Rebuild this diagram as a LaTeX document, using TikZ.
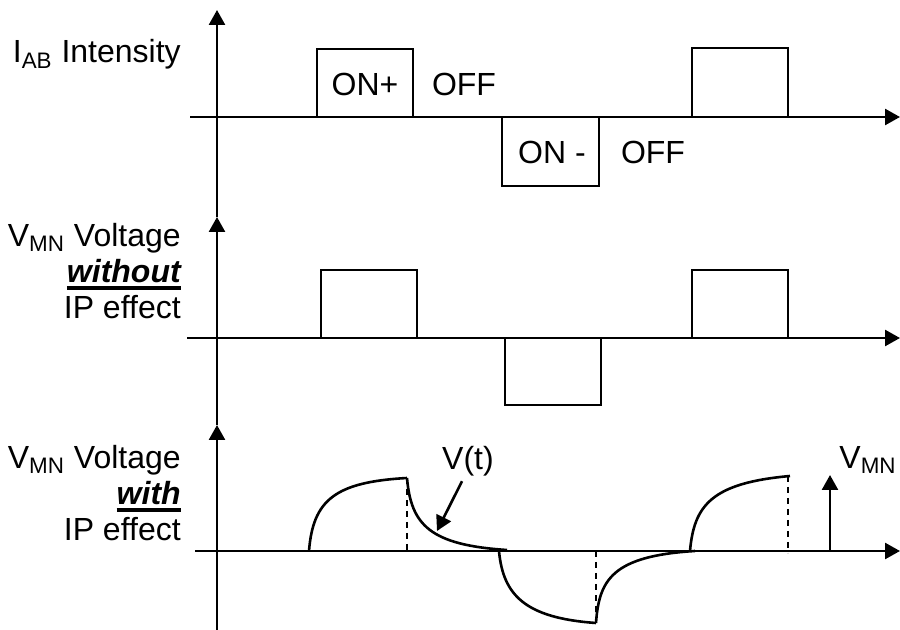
\documentclass[tikz,border=0pt]{standalone}
\usepackage{fontspec}
\setmainfont{Liberation Sans}
\usetikzlibrary{arrows.meta}

\newcommand{\ulbold}[1]{\setbox0=\hbox{\bfseries\itshape #1}\rlap{\rule[-4pt]{\wd0}{2pt}}\box0}

\begin{document}
\begin{tikzpicture}[x=0.5pt,y=-0.5pt,line width=1.3pt,font=\fontsize{16}{18}\selectfont,>={Triangle[length=7.5pt,width=8pt]}]
\useasboundingbox (0,0) rectangle (900,630);
% intensity
\draw[->] (217,217) -- (217,10);
\draw[->] (190,117) -- (900,117);
\draw[line width=1.1pt] (317,117) rectangle (413,49);
\draw[line width=1.1pt] (502,117) rectangle (599,186);
\draw[line width=1.1pt] (692,117) rectangle (788,48);
\node[anchor=base east,inner sep=0] (iab) at (182,63) {I\textsubscript{AB} Intensity};
\node (on1) at (365,84) {ON+};
\node (off1) at (464,84) {OFF};
\node (on2) at (552,152) {ON -};
\node (off2) at (653,152) {OFF};
% voltage without IP
\draw[->] (217,425) -- (217,217);
\draw[->] (187,338) -- (900,338);
\draw[line width=1.1pt] (321,338) rectangle (417,270);
\draw[line width=1.1pt] (505,338) rectangle (601,405);
\draw[line width=1.1pt] (692,338) rectangle (788,270);
\node[anchor=north east,align=right,inner sep=0] (vnoip) at (182,222) {V\textsubscript{MN} Voltage\\\ulbold{without}\\IP effect};
% voltage with IP
\draw[->] (217,630) -- (217,425);
\draw[->] (195,551) -- (900,551);
\node[anchor=north east,align=right,inner sep=0] (vip) at (182,444) {V\textsubscript{MN} Voltage\\\ulbold{with}\\IP effect};
\draw (309,551) .. controls (313,500) and (335,482) .. (407,478);
\draw (407,478) .. controls (411,525) and (430,545) .. (507,550);
\draw (499,551) .. controls (503,595) and (525,618) .. (596,623);
\draw (596,623) .. controls (599,580) and (612,556) .. (695,551);
\draw (690,551) .. controls (694,505) and (712,483) .. (790,476);
\draw[line width=1.1pt,dash pattern=on 3pt off 2.5pt] (407,478) -- (407,551);
\draw[line width=1.1pt,dash pattern=on 3pt off 2.5pt] (596,551) -- (596,623);
\draw[line width=1.1pt,dash pattern=on 3pt off 2.5pt] (788,476) -- (788,553);
\node[inner sep=2pt] (vt) at (468,461) {V(t)};
\coordinate (vtip) at (437,531);
\draw[->] ([xshift=-3pt]vt.south) -- (vtip);
\node (vmn) at (868,460) {V\textsubscript{MN}};
\coordinate (vbase) at (830,551);
\coordinate (vtop) at (830,475);
\draw[->] (vbase) -- (vtop);
\end{tikzpicture}
\end{document}
